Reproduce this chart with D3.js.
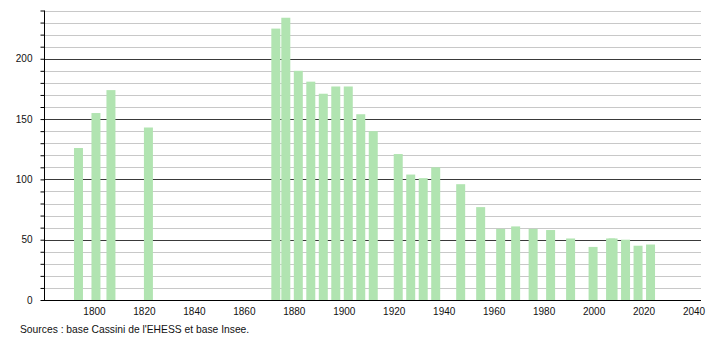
<!DOCTYPE html>
<html>
<head>
<meta charset="utf-8">
<script src="https://cdn.jsdelivr.net/npm/d3@7"></script>
<style>
  html, body { margin: 0; padding: 0; background: #ffffff; }
  svg { display: block; }
  text { font-family: "Liberation Sans", Arial, sans-serif; }
</style>
</head>
<body>
<svg id="chart" width="710" height="340"></svg>
<script>
const years = [1793, 1800, 1806, 1821, 1872, 1876, 1881, 1886, 1891, 1896, 1901, 1906, 1911,
  1921, 1926, 1931, 1936, 1946, 1954, 1962, 1968, 1975, 1982, 1990, 1999, 2006, 2007, 2012, 2017, 2022];
const population = [126, 155, 174, 143, 225, 234, 190, 181, 171, 177, 177, 154, 140,
  121, 104, 101, 110, 96, 77, 59, 61, 59, 58, 51, 44, 51, 51, 50, 45, 46];
const xTicks = [1800, 1820, 1840, 1860, 1880, 1900, 1920, 1940, 1960, 1980, 2000, 2020, 2040];
const yMajorTicks = [0, 50, 100, 150, 200];
const yMinorTicks = d3.range(0, 241, 10);
const sourceText = "Sources : base Cassini de l'EHESS et base Insee.";

const svg = d3.select("#chart");
const plotLeft = 44, plotRight = 701, plotTop = 10.5, plotBottom = 300;

const x = d3.scaleLinear().domain([1779.2, 2042.2]).range([plotLeft, plotRight]);
const y = d3.scaleLinear().domain([0, 240]).range([plotBottom, plotTop]);

// minor gridlines
svg.append("g").selectAll("line").data(yMinorTicks.filter(v => v % 50 !== 0)).join("line")
  .attr("x1", plotLeft).attr("x2", plotRight)
  .attr("y1", d => Math.round(y(d)) + 0.5).attr("y2", d => Math.round(y(d)) + 0.5)
  .attr("stroke", "#c8c8c8").attr("stroke-width", 1);

// major gridlines
svg.append("g").selectAll("line").data(yMajorTicks.filter(v => v > 0)).join("line")
  .attr("x1", plotLeft).attr("x2", plotRight)
  .attr("y1", d => Math.round(y(d)) + 0.5).attr("y2", d => Math.round(y(d)) + 0.5)
  .attr("stroke", "#3a3a3a").attr("stroke-width", 1);

// bars
const data = years.map((yr, i) => ({ year: yr, value: population[i] }));
svg.append("g").selectAll("rect").data(data).join("rect")
  .attr("x", d => x(d.year - 1.8))
  .attr("width", d => x(d.year + 1.8) - x(d.year - 1.8))
  .attr("y", d => y(d.value))
  .attr("height", d => y(0) - y(d.value))
  .attr("fill", "#b1e4b1");

// y axis
const yAxis = d3.axisLeft(y).tickValues(yMinorTicks).tickSize(4).tickPadding(8)
  .tickFormat(d => d % 50 === 0 ? d : "");
const gy = svg.append("g").attr("transform", `translate(${plotLeft + 0.5},0)`).call(yAxis);
gy.select(".domain").attr("stroke", "#000").attr("d", `M0,${plotTop}V${plotBottom}`);
gy.selectAll(".tick line").attr("stroke", "#000");
gy.selectAll(".tick text").attr("font-size", "10px").attr("fill", "#111")
  .attr("font-family", "'Liberation Sans', Arial, sans-serif");

// x axis
const xAxis = d3.axisBottom(x).tickValues(xTicks).tickSize(0).tickPadding(7).tickFormat(d3.format("d"));
const gx = svg.append("g").attr("transform", `translate(0,${plotBottom + 0.5})`).call(xAxis);
gx.select(".domain").attr("stroke", "#000").attr("d", `M${plotLeft},0H${plotRight}`);
gx.selectAll(".tick text").attr("font-size", "10px").attr("fill", "#111").attr("dx", "-2")
  .attr("font-family", "'Liberation Sans', Arial, sans-serif");

// source
svg.append("text").attr("x", 20).attr("y", 333)
  .attr("font-size", "10.3px").attr("fill", "#111").text(sourceText);
</script>
</body>
</html>
